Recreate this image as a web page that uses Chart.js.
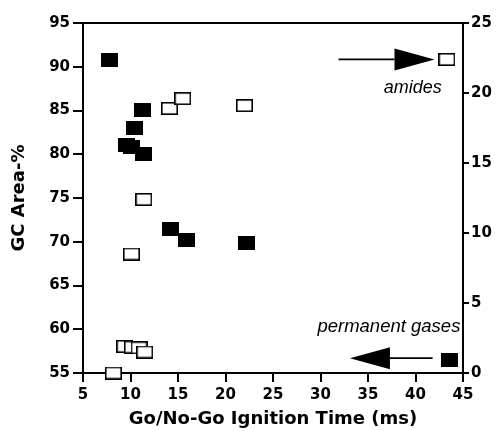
<!DOCTYPE html>
<html>
<head>
<meta charset="utf-8">
<script src="https://cdn.jsdelivr.net/npm/chart.js@4/dist/chart.umd.min.js"></script>
<style>
html,body{margin:0;padding:0;background:#fff;}
#wrap{width:498px;height:431px;position:relative;}
</style>
</head>
<body>
<div id="wrap"><canvas id="c" width="498" height="431"></canvas></div>
<script>
// Filled squares (left axis: GC Area-%)
const gasesX = [7.8, 11.3, 10.4, 9.6, 10.1, 11.4, 14.2, 15.9, 22.2, 43.6];
const gasesY = [90.8, 85.1, 83.0, 81.1, 80.8, 80.0, 71.5, 70.2, 69.9, 56.5];
// Open squares (right axis)
const amidesX = [14.1, 15.5, 22.0, 43.3, 11.4, 10.1, 9.4, 10.2, 10.9, 11.5, 8.2];
const amidesY = [18.9, 19.6, 19.1, 22.4, 12.4, 8.5, 1.9, 1.85, 1.8, 1.5, 0.0];
// Axis ranges / ticks
const xTicks = [5, 10, 15, 20, 25, 30, 35, 40, 45];
const yLeftTicks = [55, 60, 65, 70, 75, 80, 85, 90, 95];
const yRightTicks = [0, 5, 10, 15, 20, 25];
// Annotations (data coordinates)
const amidesArrow = {x1: 31.9, x2: 42.0, y: 22.4};
const amidesLabel = {x: 39.7, y: 20.35, text: 'amides'};
const gasesArrow = {x1: 41.8, x2: 33.1, y: 56.7};
const gasesLabel = {x: 37.2, y: 60.3, text: 'permanent gases'};

function makeRect(w, h, filled) {
  const c = document.createElement('canvas');
  c.width = w; c.height = h;
  const g = c.getContext('2d');
  if (filled) { g.fillStyle = '#000'; g.fillRect(0, 0, w, h); }
  else {
    g.fillStyle = '#fff'; g.fillRect(0, 0, w, h);
    g.strokeStyle = '#000'; g.lineWidth = 1.6;
    g.strokeRect(0.8, 0.8, w - 1.6, h - 1.6);
  }
  return c;
}
const filledSq = makeRect(17, 14, true);
const openSq = makeRect(17, 13, false);

const tickFont = {family: '"DejaVu Sans", sans-serif', size: 15, weight: 'bold'};
const titleFont = {family: '"DejaVu Sans", sans-serif', size: 18, weight: 'bold'};

const extras = {
  id: 'extras',
  afterDraw(chart) {
    const ctx = chart.ctx, a = chart.chartArea;
    const xs = chart.scales.x, yl = chart.scales.y, yr = chart.scales.y2;
    ctx.save();
    ctx.strokeStyle = '#000'; ctx.lineWidth = 2;
    ctx.beginPath(); ctx.moveTo(a.left, a.top); ctx.lineTo(a.right, a.top); ctx.stroke();
    function arrow(x1, x2, y) {
      const dir = Math.sign(x2 - x1);
      const headLen = 40, headH = 22;
      const base = x2 - dir * headLen;
      ctx.lineWidth = 1.6;
      ctx.beginPath(); ctx.moveTo(x1, y); ctx.lineTo(base, y); ctx.stroke();
      ctx.fillStyle = '#000';
      ctx.beginPath();
      ctx.moveTo(x2, y);
      ctx.lineTo(base, y - headH / 2);
      ctx.lineTo(base, y + headH / 2);
      ctx.closePath(); ctx.fill();
    }
    arrow(xs.getPixelForValue(amidesArrow.x1), xs.getPixelForValue(amidesArrow.x2), yr.getPixelForValue(amidesArrow.y));
    arrow(xs.getPixelForValue(gasesArrow.x1), xs.getPixelForValue(gasesArrow.x2), yl.getPixelForValue(gasesArrow.y));
    ctx.fillStyle = '#000';
    ctx.font = 'italic 18px "Liberation Sans", Arial, sans-serif';
    ctx.textAlign = 'center'; ctx.textBaseline = 'middle';
    ctx.fillText(amidesLabel.text, xs.getPixelForValue(amidesLabel.x), yr.getPixelForValue(amidesLabel.y));
    ctx.font = 'italic 18.5px "Liberation Sans", Arial, sans-serif';
    ctx.fillText(gasesLabel.text, xs.getPixelForValue(gasesLabel.x), yl.getPixelForValue(gasesLabel.y));
    ctx.restore();
  }
};

new Chart(document.getElementById('c'), {
  type: 'scatter',
  data: {
    datasets: [
      {
        label: 'permanent gases',
        data: gasesX.map((x, i) => ({x, y: gasesY[i]})),
        yAxisID: 'y',
        pointStyle: filledSq,
        pointRadius: 8,
        clip: false
      },
      {
        label: 'amides',
        data: amidesX.map((x, i) => ({x, y: amidesY[i]})),
        yAxisID: 'y2',
        pointStyle: openSq,
        pointRadius: 8,
        clip: false
      }
    ]
  },
  options: {
    responsive: false,
    animation: false,
    events: [],
    layout: {padding: {top: 23, left: 0, right: 0, bottom: 0}},
    plugins: {legend: {display: false}, tooltip: {enabled: false}},
    scales: {
      x: {
        type: 'linear', position: 'bottom', min: 5, max: 45,
        afterBuildTicks: s => { s.ticks = xTicks.map(v => ({value: v})); },
        afterFit: s => { s.height = 58; },
        ticks: {font: tickFont, color: '#000', padding: 4, maxRotation: 0},
        grid: {drawOnChartArea: false, tickLength: 9, color: '#000', lineWidth: 2},
        border: {color: '#000', width: 2},
        title: {display: true, text: 'Go/No-Go Ignition Time (ms)', font: titleFont, color: '#000', padding: {top: 0, bottom: 1}}
      },
      y: {
        type: 'linear', position: 'left', min: 55, max: 95,
        afterBuildTicks: s => { s.ticks = yLeftTicks.map(v => ({value: v})); },
        afterFit: s => { s.width = 83; },
        ticks: {font: tickFont, color: '#000', padding: 3},
        grid: {drawOnChartArea: false, tickLength: 10, color: '#000', lineWidth: 2},
        border: {color: '#000', width: 2},
        title: {display: true, text: 'GC Area-%', font: titleFont, color: '#000', padding: {top: 9, bottom: 0}}
      },
      y2: {
        type: 'linear', position: 'right', min: 0, max: 25,
        afterBuildTicks: s => { s.ticks = yRightTicks.map(v => ({value: v})); },
        afterFit: s => { s.width = 35; },
        ticks: {font: tickFont, color: '#000', padding: 2},
        grid: {drawOnChartArea: false, tickLength: 6, color: '#000', lineWidth: 2},
        border: {color: '#000', width: 2}
      }
    }
  },
  plugins: [extras]
});
</script>
</body>
</html>
